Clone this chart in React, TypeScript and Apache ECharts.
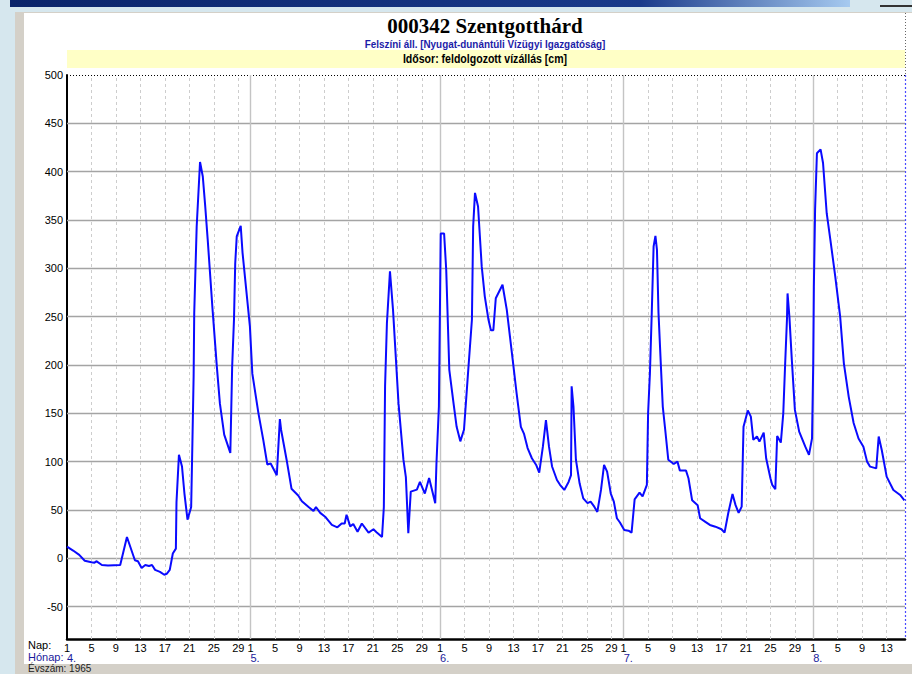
import React, { useEffect, useRef } from "react";
import * as echarts from "echarts";

// Month labels and their start offsets (days since 1 April 1965)
const monthNames = ["4.", "5.", "6.", "7.", "8."];
const monthStartOffsets = [0, 30, 61, 91, 122];
const dayTickLabels = [1, 5, 9, 13, 17, 21, 25, 29];
const yTickValues = [-50, 0, 50, 100, 150, 200, 250, 300, 350, 400, 450, 500];
const totalDays = 137;
const yMin = -83.5;
const yMax = 500;

// [days since 1 April, water level cm]
const aprilLevels: [number, number][] = [
  [0, 12], [1, 8], [2, 3.5], [2.9, -2.5], [4, -4], [4.5, -4.5], [4.8, -3], [5.7, -7], [6.7, -7.5],
  [8.7, -7], [9.8, 22], [11.1, -2], [11.6, -3], [12.2, -10], [12.8, -7], [13.4, -8], [13.9, -7],
  [14.4, -12], [15.2, -14], [15.9, -17], [16.3, -16], [16.8, -12], [17.3, 5], [17.8, 10], [17.9, 58],
  [18.3, 107], [18.8, 95], [19.2, 67], [19.7, 40], [20.3, 53], [20.5, 119], [20.7, 188], [20.8, 254],
  [21.2, 343], [21.75, 410], [22.2, 395], [22.6, 364], [23.0, 330], [23.8, 257], [24.5, 198], [25, 160],
  [25.7, 128], [26.7, 109], [26.85, 153], [27, 198], [27.3, 247], [27.5, 305], [27.75, 333], [28.4, 344],
  [28.7, 316], [29.9, 240],
];
const mayLevels: [number, number][] = [
  [30.3, 191], [31.3, 150], [32.1, 122], [32.75, 97], [33.3, 98], [34.3, 86], [34.8, 144], [35.0, 133],
  [35.9, 102], [36.7, 72], [37.8, 65], [38.4, 59], [39.5, 53], [40.3, 49], [40.7, 53], [41.4, 47],
  [42.2, 43], [43.3, 34.5], [44.2, 32], [44.9, 36], [45.4, 36], [45.7, 45], [46.3, 33], [46.8, 35.5],
  [47.5, 27.5], [48.2, 36], [49.3, 26.5], [50.1, 30], [50.6, 27], [51.5, 22], [51.8, 53], [52.0, 178],
  [52.3, 243], [52.8, 297], [53.3, 257], [54.2, 160], [55, 102], [55.4, 84], [55.8, 26], [56.2, 69],
  [57.2, 71], [57.7, 79], [58.5, 67], [59.2, 83], [60.2, 57], [60.4, 98],
];
const juneLevels: [number, number][] = [
  [60.8, 157], [61.1, 336], [61.65, 336], [62, 298], [62.5, 195], [63.2, 160], [63.7, 136], [64.3, 121],
  [64.9, 133], [65.6, 195], [66.2, 247], [66.4, 343], [66.7, 378], [67.2, 364], [67.8, 302], [68.3, 271],
  [68.9, 247], [69.3, 236], [69.7, 236], [70.1, 269], [71.2, 283], [71.9, 257], [73, 198], [73.5, 171],
  [74.2, 136], [74.7, 129], [75.3, 114], [76, 103.5], [76.7, 96.6], [77.2, 88.6], [77.8, 115.5], [78.3, 143],
  [78.8, 115.5], [79.3, 95], [80.1, 81], [80.6, 76], [81.3, 70.7], [82, 79], [82.4, 86], [82.5, 178],
  [82.8, 157], [83.2, 102], [83.8, 77.6], [84.4, 62], [85.1, 57], [85.6, 58.6], [86.2, 53.4], [86.7, 48],
  [87.3, 70.7], [87.8, 96.6], [88.3, 89.6], [88.9, 67], [89.4, 58.6], [89.9, 41.4], [90.4, 37],
];
const julyLevels: [number, number][] = [
  [91.1, 29.3], [91.8, 28.6], [92.3, 26.5], [92.8, 61], [93.6, 68], [94.1, 64], [94.8, 76], [95, 150],
  [95.3, 191.5], [95.6, 254], [95.9, 322.6], [96.2, 333.6], [96.45, 319], [96.7, 254], [97.1, 198],
  [97.4, 157], [97.8, 133], [98.3, 102], [99.2, 97.6], [99.8, 100], [100.2, 90.7], [101.2, 90.7],
  [101.6, 82.8], [102.2, 60], [103.1, 55], [103.5, 41.4], [104.3, 38], [105.1, 34.5], [106, 32.7],
  [107, 30], [107.5, 26.5], [108.1, 46.6], [108.8, 66.6], [109.3, 55], [109.8, 47], [110.3, 53.4],
  [110.6, 136], [111.3, 153], [111.8, 146.6], [112.2, 122.5], [112.8, 126], [113.2, 120.7], [113.9, 130],
  [114.3, 103.5], [115, 82.8], [115.3, 75.9], [115.8, 71.4], [116.1, 126.6], [116.7, 119.7], [117.1, 150],
  [117.4, 200], [117.7, 246.7], [117.8, 274], [118.1, 250], [118.5, 205], [119, 153.5], [119.7, 131],
  [120.7, 115.5], [121.3, 107], [121.8, 124],
];
const augustLevels: [number, number][] = [
  [122, 202], [122.1, 281], [122.3, 360.5], [122.6, 419], [123.2, 423], [123.6, 409], [124.2, 357],
  [124.8, 329.5], [125.6, 291.5], [126.4, 250], [127, 202], [127.8, 167], [128.6, 140], [129.4, 124],
  [130.2, 115.5], [130.8, 100], [131.3, 94.8], [132.3, 93], [132.7, 126], [133.2, 112], [134, 84.5],
  [135.1, 70.7], [136.2, 65.5], [136.9, 60],
];

const FONT = "'Liberation Sans', Arial, sans-serif";

function dayTickOffsets(): number[] {
  const out: number[] = [];
  monthStartOffsets.forEach((start, i) => {
    const next = i + 1 < monthStartOffsets.length ? monthStartOffsets[i + 1] : totalDays + 1;
    dayTickLabels.forEach((d) => {
      const off = start + d - 1;
      if (off < next && off <= totalDays) out.push(off);
    });
  });
  return out;
}

function dayOfMonth(v: number): string {
  let start = 0;
  for (const s of monthStartOffsets) if (s <= v + 0.001) start = s;
  return String(Math.round(v - start + 1));
}

export default function App() {
  const ref = useRef<HTMLDivElement>(null);
  useEffect(() => {
    if (!ref.current) return;
    const chart = echarts.init(ref.current, null, { renderer: "svg" });
    const dayOffs = dayTickOffsets();
    const levels = [...aprilLevels, ...mayLevels, ...juneLevels, ...julyLevels, ...augustLevels];

    const gridLines: any[] = [];
    yTickValues.forEach((v) => {
      if (v === 500) {
        gridLines.push({ yAxis: v, lineStyle: { type: [1, 2], color: "#000", width: 1.2 } });
      } else {
        gridLines.push({ yAxis: v, lineStyle: { type: "solid", color: "#a4a4a4", width: 1.4 } });
      }
    });
    dayOffs.forEach((o) => {
      if (o === 0) return;
      if (monthStartOffsets.includes(o)) {
        gridLines.push({ xAxis: o, lineStyle: { type: "solid", color: "#c4c4c4", width: 1.4 } });
      } else {
        gridLines.push({ xAxis: o, lineStyle: { type: [3, 3], color: "#cdcdcd", width: 1 } });
      }
    });

    const option: any = {
      animation: false,
      backgroundColor: "#ffffff",
      grid: { left: 67, right: 7, top: 75, bottom: 35, containLabel: false },
      xAxis: [
        {
          type: "value",
          min: 0,
          max: totalDays,
          axisLine: { show: true, onZero: false, lineStyle: { color: "#000", width: 2.5 } },
          axisTick: { show: false, customValues: dayOffs },
          splitLine: { show: false },
          axisLabel: {
            customValues: dayOffs,
            formatter: (v: number) => dayOfMonth(v),
            color: "#000",
            fontFamily: FONT,
            fontSize: 11,
            margin: 3,
            showMinLabel: true,
            showMaxLabel: true,
            hideOverlap: false,
          },
        },
        {
          type: "value",
          position: "bottom",
          offset: 10,
          min: 0,
          max: totalDays,
          axisLine: { show: false },
          axisTick: { show: false, customValues: monthStartOffsets },
          splitLine: { show: false },
          axisLabel: {
            customValues: monthStartOffsets,
            formatter: (v: number) => monthNames[monthStartOffsets.indexOf(Math.round(v))] ?? "",
            color: "#1a1a9c",
            fontFamily: FONT,
            fontSize: 11,
            margin: 3,
            align: "left",
            showMinLabel: true,
            hideOverlap: false,
          },
        },
      ],
      yAxis: {
        type: "value",
        min: yMin,
        max: yMax,
        axisLine: { show: true, onZero: false, lineStyle: { color: "#000", width: 2 } },
        axisTick: { show: false, customValues: yTickValues },
        splitLine: { show: false },
        axisLabel: {
          customValues: yTickValues,
          color: "#000",
          fontFamily: FONT,
          fontSize: 11,
          margin: 4,
          showMaxLabel: true,
          hideOverlap: false,
        },
      },
      series: [
        {
          type: "line",
          xAxisIndex: 0,
          yAxisIndex: 0,
          data: levels,
          showSymbol: false,
          symbol: "none",
          z: 5,
          lineStyle: { color: "#0a0aff", width: 2 },
          silent: true,
          markLine: {
            z: 1,
            silent: true,
            symbol: ["none", "none"],
            label: { show: false },
            emphasis: { disabled: true },
            data: gridLines,
          },
        },
      ],
      graphic: [
        { type: "rect", shape: { x: 0, y: 0, width: 912, height: 12 }, style: { fill: "#d6e7ee" }, z: -1 },
        { type: "rect", shape: { x: 0, y: 0, width: 15, height: 674 }, style: { fill: "#d6e7ee" }, z: -1 },
        {
          type: "rect",
          shape: { x: 10, y: 0, width: 840, height: 7 },
          style: {
            fill: new echarts.graphic.LinearGradient(0, 0, 1, 0, [
              { offset: 0, color: "#0a246a" },
              { offset: 0.75, color: "#1a3a8a" },
              { offset: 1, color: "#a6caf0" },
            ]),
          },
          z: 0,
        },
        { type: "rect", shape: { x: 880, y: 5, width: 32, height: 2 }, style: { fill: "#333" }, z: 0 },
        { type: "rect", shape: { x: 15, y: 12, width: 9, height: 662 }, style: { fill: "#d4d0c8" }, z: 0 },
        { type: "rect", shape: { x: 15, y: 12, width: 897, height: 1 }, style: { fill: "#d4d0c8" }, z: 0 },
        { type: "rect", shape: { x: 15, y: 664, width: 897, height: 10 }, style: { fill: "#d4d0c8" }, z: 0 },
        { type: "rect", shape: { x: 67, y: 50, width: 838, height: 18 }, style: { fill: "#ffffc6" }, z: 0 },
        {
          type: "line",
          shape: { x1: 905.5, y1: 13, x2: 905.5, y2: 75 },
          style: { stroke: "#666", lineWidth: 1, lineDash: [1, 2] },
          z: 0,
        },
        {
          type: "line",
          shape: { x1: 905.5, y1: 75, x2: 905.5, y2: 639 },
          style: { stroke: "#4a4aff", lineWidth: 1.2, lineDash: [2, 2] },
          z: 0,
        },
        {
          type: "text",
          x: 485,
          y: 26,
          style: {
            text: "000342 Szentgotthárd",
            font: "bold 21px 'Liberation Serif', 'Times New Roman', serif",
            fill: "#000",
            textAlign: "center",
            textVerticalAlign: "middle",
          },
          z: 2,
        },
        {
          type: "text",
          x: 485,
          y: 44,
          scaleX: 0.9,
          style: {
            text: "Felszíni áll. [Nyugat-dunántúli Vízügyi Igazgatóság]",
            font: `bold 11px ${FONT}`,
            fill: "#1c1ca8",
            textAlign: "center",
            textVerticalAlign: "middle",
          },
          z: 2,
        },
        {
          type: "text",
          x: 485,
          y: 59,
          scaleX: 0.88,
          style: {
            text: "Idősor: feldolgozott vízállás [cm]",
            font: `bold 12px ${FONT}`,
            fill: "#000",
            textAlign: "center",
            textVerticalAlign: "middle",
          },
          z: 2,
        },
        {
          type: "text",
          x: 28,
          y: 645,
          style: { text: "Nap:", font: `11px ${FONT}`, fill: "#000", textVerticalAlign: "middle" },
          z: 2,
        },
        {
          type: "text",
          x: 28,
          y: 657,
          style: { text: "Hónap:", font: `11px ${FONT}`, fill: "#1a1a9c", textVerticalAlign: "middle" },
          z: 2,
        },
        {
          type: "text",
          x: 28,
          y: 668.5,
          style: { text: "Évszám: 1965", font: `10px ${FONT}`, fill: "#222", textVerticalAlign: "middle" },
          z: 2,
        },
      ],
    };
    chart.setOption(option);
    return () => chart.dispose();
  }, []);
  return (
    <div
      ref={ref}
      style={{ position: "fixed", left: 0, top: 0, width: 912, height: 674 }}
    />
  );
}
